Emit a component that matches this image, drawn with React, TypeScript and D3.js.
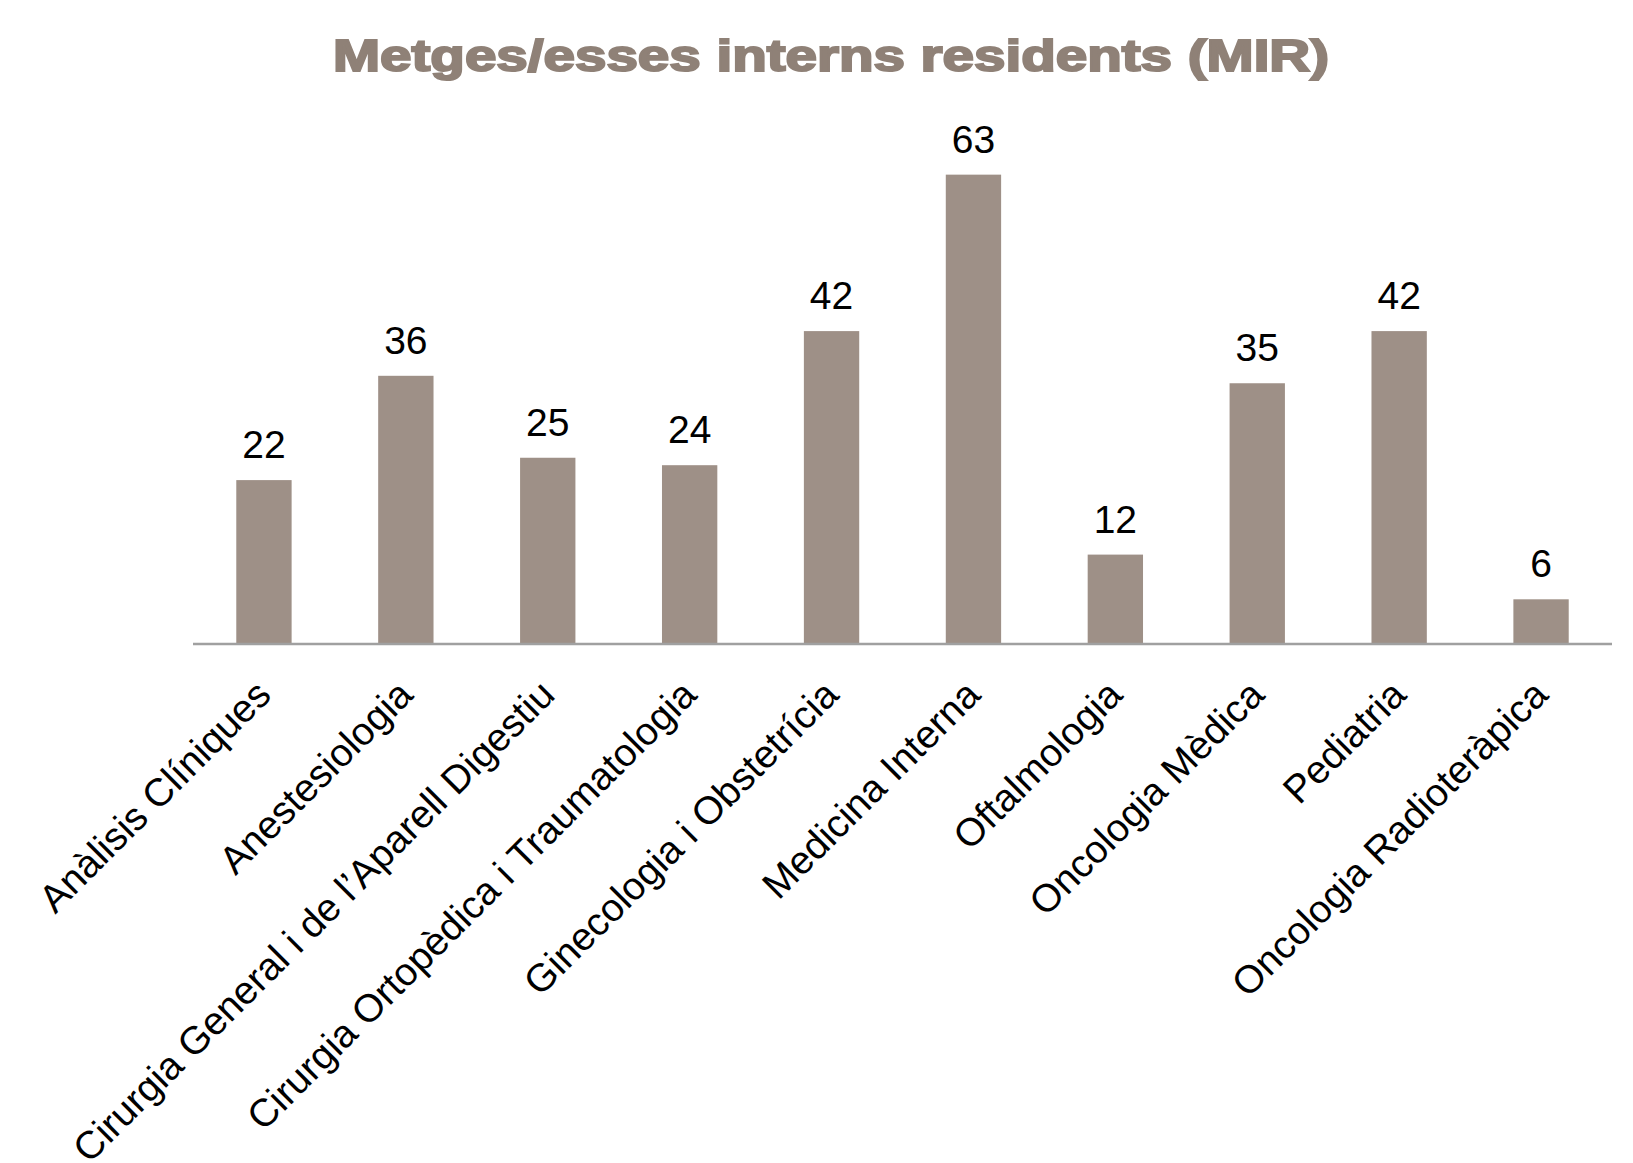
import * as React from 'react'
import {scaleBand, scaleLinear} from 'd3'

// dades
const categories = [
  'Anàlisis Clíniques',
  'Anestesiologia',
  'Cirurgia General i de l’Aparell Digestiu',
  'Cirurgia Ortopèdica i Traumatologia',
  'Ginecologia i Obstetrícia',
  'Medicina Interna',
  'Oftalmologia',
  'Oncologia Mèdica',
  'Pediatria',
  'Oncologia Radioteràpica',
]
const values = [22, 36, 25, 24, 42, 63, 12, 35, 42, 6]
const title = 'Metges/esses interns residents (MIR)'

const W = 1633
const H = 1163
const FONT = '"Liberation Sans", Arial, Helvetica, sans-serif'

export default function App() {
  const x = scaleBand<string>()
    .domain(categories)
    .range([193, 1612])
    .paddingInner(0.61)
    .paddingOuter(0.305)
  const y = scaleLinear().domain([0, 70]).range([644, 644 - 7.45 * 70])

  return (
    <svg width={W} height={H} style={{position: 'absolute', left: 0, top: 0, background: '#fff'}}>
      <text
        x={831}
        y={71}
        textAnchor="middle"
        fontFamily={FONT}
        fontWeight="bold"
        fontSize={44}
        fill="#8f8177"
        stroke="#8f8177"
        strokeWidth={2}
        textLength={996}
        lengthAdjust="spacingAndGlyphs"
      >
        {title}
      </text>

      {categories.map((c, i) => (
        <g key={c}>
          <rect
            x={x(c)}
            y={y(values[i])}
            width={x.bandwidth()}
            height={y(0) - y(values[i])}
            fill="#9e9087"
          />
          <text
            x={x(c)! + x.bandwidth() / 2}
            y={y(values[i]) - 22}
            textAnchor="middle"
            fontFamily={FONT}
            fontSize={39}
            fill="#000"
          >
            {values[i]}
          </text>
          <text
            transform={`translate(${x(c)! + x.bandwidth() / 2 + 9}, 697) rotate(-45)`}
            textAnchor="end"
            fontFamily={FONT}
            fontSize={39}
            fill="#000"
          >
            {c}
          </text>
        </g>
      ))}

      <line x1={193} x2={1612} y1={644} y2={644} stroke="#a0a0a0" strokeWidth={2.5} />
    </svg>
  )
}
